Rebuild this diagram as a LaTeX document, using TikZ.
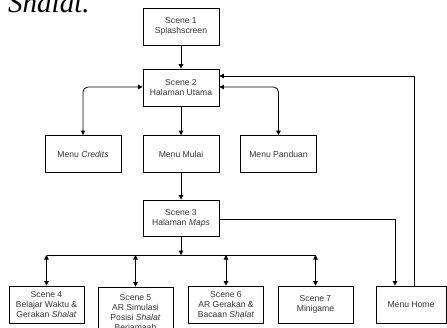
\documentclass[tikz,border=0pt]{standalone}
\usepackage{fontspec}
\setmainfont{Liberation Sans}
\newfontfamily\serifit{Liberation Serif}
\usetikzlibrary{arrows.meta}
\definecolor{txt}{HTML}{333333}
\tikzset{
  box/.style={draw=black, line width=0.8pt, rectangle, minimum width=76pt, minimum height=37pt,
    inner sep=1pt, align=center, text=txt, font=\fontsize{8.6}{10}\selectfont},
  conn/.style={draw=black, line width=0.8pt, -{Triangle[length=4.5pt,width=4.5pt]}},
  dconn/.style={draw=black, line width=0.8pt, {Triangle[length=4.5pt,width=4.5pt]}-{Triangle[length=4.5pt,width=4.5pt]}},
}
\begin{document}
\begin{tikzpicture}[x=1pt,y=-1pt]
\useasboundingbox (0,0) rectangle (447,327);
\clip (0,0) rectangle (447,327);
\node[anchor=base west, inner sep=0pt, font=\serifit\itshape\fontsize{29}{30}\selectfont] (shl) at (8,12.5) {Shalat.};

\node[box] (s1) at (181,26.5) {Scene 1\\Splashscreen};
\node[box] (s2) at (181,87.5) {Scene 2\\Halaman Utama};
\node[box] (cred) at (83,154) {Menu \textit{Credits}};
\node[box] (mulai) at (181,154) {Menu Mulai};
\node[box] (pand) at (278.5,154) {Menu Panduan};
\node[box, minimum height=36pt] (s3) at (181,218) {Scene 3\\Halaman \textit{Maps}};
\node[box, minimum width=75pt] (s4) at (46.5,304.5) {Scene 4\\Belajar Waktu \&\\Gerakan \textit{Shalat}};
\node[box, minimum width=75pt, minimum height=52pt] (s5) at (135.5,313) {Scene 5\\AR Simulasi\\Posisi \textit{Shalat}\\Berjamaah};
\node[box, minimum width=75pt] (s6) at (226,304.5) {Scene 6\\AR Gerakan \&\\Bacaan \textit{Shalat}};
\node[box, minimum width=75pt] (s7) at (315.5,304.5) {Scene 7\\Minigame};
\node[box, minimum width=70pt] (home) at (411,304.5) {Menu Home};

\draw[conn] (s1) -- (s2);
\draw[conn] (s2) -- (mulai);
\draw[conn] (mulai) -- (s3);
\draw[dconn, rounded corners=5pt] (cred.north) |- (s2.west |- 0,87);
\draw[dconn, rounded corners=5pt] (pand.north) |- (s2.east |- 0,87);

\coordinate (bus) at (181,255);
\coordinate (busL) at (46.5,255);
\coordinate (busR) at (315.5,255);
\draw[conn] (s3) -- (bus);
\draw[line width=0.8pt] (busL) -- (busR);
\draw[dconn] (busL) -- (s4.north);
\draw[dconn] (135.5,255) -- (s5.north);
\draw[dconn] (226,255) -- (s6.north);
\draw[dconn] (busR) -- (s7.north);

\draw[conn] (s3.east |- 0,219) -| (home.north -| 395,0);
\draw[conn] (home.north -| 414,0) |- (s2.east |- 0,76);
\end{tikzpicture}
\end{document}
